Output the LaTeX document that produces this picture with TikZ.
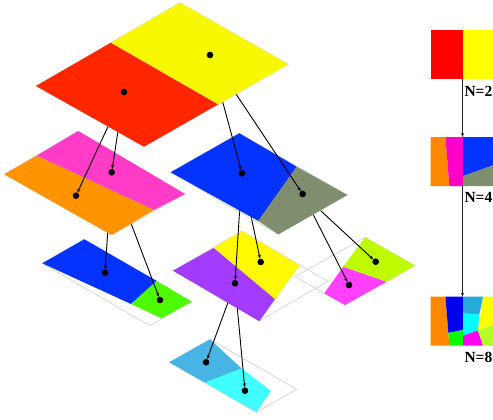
\documentclass[tikz,border=0pt]{standalone}
\usepackage{fontspec}
\setmainfont{Liberation Serif}
\usetikzlibrary{arrows.meta}
\definecolor{cRed}{RGB}{255,38,0}
\definecolor{cYel}{RGB}{248,248,0}
\definecolor{cPink}{RGB}{255,60,200}
\definecolor{cOrange}{RGB}{255,148,0}
\definecolor{cBlue}{RGB}{4,51,255}
\definecolor{cGray}{RGB}{128,142,112}
\definecolor{cGreen}{RGB}{78,250,0}
\definecolor{cPurple}{RGB}{163,60,255}
\definecolor{cYelB}{RGB}{255,250,0}
\definecolor{cYG}{RGB}{190,250,0}
\definecolor{cMag}{RGB}{255,64,255}
\definecolor{cLB}{RGB}{72,180,230}
\definecolor{cCyan}{RGB}{64,255,255}
\definecolor{pRed}{RGB}{255,0,0}
\definecolor{pYel}{RGB}{255,255,0}
\definecolor{pOrange}{RGB}{255,136,0}
\definecolor{pMag}{RGB}{255,0,200}
\definecolor{pBlue}{RGB}{0,0,240}
\definecolor{pGreen}{RGB}{0,255,0}
\definecolor{pLB}{RGB}{40,170,220}
\definecolor{pCyan}{RGB}{0,255,255}
\definecolor{pMag8}{RGB}{255,0,240}
\definecolor{pYG}{RGB}{180,255,40}
\begin{document}
\begin{tikzpicture}[x=1pt,y=-1pt,
  dot/.style={circle,fill=black,inner sep=0pt,minimum size=6.6pt},
  conn/.style={draw=black,line width=0.9pt,-{Stealth[length=4pt,width=3.2pt]}},
  parr/.style={draw=black!85,line width=0.8pt,-{Stealth[length=4pt,width=3.2pt]}},
  frame/.style={draw=black!22,line width=0.5pt},
  lbl/.style={font=\bfseries\fontsize{15.5}{16}\selectfont,inner sep=0pt,anchor=base east}]
\useasboundingbox (0,0) rectangle (493,420);

% ---------- level 4 ----------
\draw[frame] (169.3,362.3) -- (210,339.3) -- (296.7,389.3) -- (256,412.3) -- cycle;
\fill[cLB] (169.3,362.3) -- (210,339.3) -- (241.7,368.5) -- (205,382.7) -- cycle;
\fill[cCyan] (205,382.7) -- (241.7,368.5) -- (271,391) -- (256.4,412) -- cycle;
\node[dot] (d4lb) at (206,362.3) {};
\node[dot] (d4cy) at (245,390.7) {};

% ---------- level 3 ----------
% left (from pink)
\draw[frame] (42.3,263.3) -- (84.3,239.3) -- (191.7,301.7) -- (149.7,325.7) -- cycle;
\fill[cBlue] (42.3,263.3) -- (84.3,239.3) -- (156.7,281) -- (131,304) -- cycle;
\fill[cGreen] (131,304) -- (156.7,281) -- (191.7,301.7) -- (161.7,318.3) -- cycle;
\node[dot] (d3bl) at (105,272.7) {};
\node[dot] (d3gr) at (160,300) {};
% middle (from blue)
\draw[frame] (173.3,270.7) -- (241.7,231) -- (327.7,281.3) -- (259.3,321) -- cycle;
\fill[cPurple] (173.3,270.7) -- (214,248) -- (275,299) -- (259.3,321) -- cycle;
\fill[cYelB] (214,248) -- (241.7,231) -- (299.3,265.5) -- (275,299) -- cycle;
% right (from gray)
\draw[frame] (295,276.7) -- (365,237.3) -- (415,265.6) -- (345,305) -- cycle;
\fill[cMag] (324.3,293.3) -- (343.3,266.7) -- (386.7,281.7) -- (345,305) -- cycle;
\fill[cYG] (343.3,266.7) -- (365,237.3) -- (415,265.6) -- (386.7,281.7) -- cycle;
\node[dot] (d3pu) at (235,283.3) {};
\node[dot] (d3ye) at (260.7,262) {};
\node[dot] (d3ma) at (349,285) {};
\node[dot] (d3yg) at (375.7,261.7) {};
\draw[conn] (d3pu) -- (d4lb);
\draw[conn] (d3pu) -- (d4cy);
% re-draw level-3 middle on top of its outgoing lines
\fill[cPurple] (173.3,270.7) -- (214,248) -- (275,299) -- (259.3,321) -- cycle;
\fill[cYelB] (214,248) -- (241.7,231) -- (299.3,265.5) -- (275,299) -- cycle;
\node[dot] at (235,283.3) {};
\node[dot] at (260.7,262) {};

% ---------- level 2 ----------
\node[dot] (d2p) at (111.7,172.3) {};
\node[dot] (d2o) at (76,195.7) {};
\node[dot] (d2b) at (242,173.3) {};
\node[dot] (d2g) at (302.7,194) {};
\draw[conn] (d2p) -- (d3bl);
\draw[conn] (d2p) -- (d3gr);
\draw[conn] (d2b) -- (d3pu);
\draw[conn] (d2b) -- (d3ye);
\draw[conn] (d2g) -- (d3ma);
\draw[conn] (d2g) -- (d3yg);
\draw[frame] (4.3,174.3) -- (78.3,131) -- (185,194) -- (111.7,235) -- cycle;
\fill[cPink] (36.7,155.7) -- (78.3,131) -- (185,194) -- (154,210) -- cycle;
\fill[cOrange] (4.3,174.3) -- (36.7,155.7) -- (154,210) -- (111.7,235) -- cycle;
\draw[frame] (170.7,172.3) -- (239.3,133.3) -- (347.3,195) -- (278.3,234.3) -- cycle;
\fill[cBlue] (170.7,172.3) -- (239.3,133.3) -- (296.7,166.7) -- (258.3,221) -- cycle;
\fill[cGray] (258.3,221) -- (296.7,166.7) -- (347.3,195) -- (278.3,234.3) -- cycle;
\node[dot] at (111.7,172.3) {};
\node[dot] at (76,195.7) {};
\node[dot] at (242,173.3) {};
\node[dot] at (302.7,194) {};

% ---------- level 1 ----------
\node[dot] (d1r) at (124,92) {};
\node[dot] (d1y) at (210,55) {};
\draw[conn] (d1r) -- (d2p);
\draw[conn] (d1r) -- (d2o);
\draw[conn] (d1y) -- (d2b);
\draw[conn] (d1y) -- (d2g);
\draw[frame] (36,86) -- (180,2.7) -- (288.3,64.3) -- (144,146.7) -- cycle;
\fill[cRed] (36,86) -- (111,42.7) -- (218.3,104.3) -- (144,146.7) -- cycle;
\fill[cYel] (111,42.7) -- (180,2.7) -- (288.3,64.3) -- (218.3,104.3) -- cycle;
\node[dot] at (124,92) {};
\node[dot] at (210,55) {};

% ---------- previews ----------
\begin{scope}
\clip (0,0) rectangle (493,420);
\begin{scope}[shift={(430.5pt,-30pt)},x=65pt,y=-49pt]
\fill[pRed] (0,0) rectangle (0.5,1);
\fill[pYel] (0.5,0) rectangle (1,1);
\end{scope}
\begin{scope}[shift={(430.5pt,-137pt)},x=65pt,y=-49pt]
\fill[pOrange] (0,0) -- (0.23,0) -- (0.29,1) -- (0,1) -- cycle;
\fill[pMag] (0.23,0) -- (0.5,0) -- (0.5,1) -- (0.29,1) -- cycle;
\fill[cBlue] (0.5,0) -- (1,0) -- (1,0.56) -- (0.5,0.8) -- cycle;
\fill[cGray] (0.5,0.8) -- (1,0.56) -- (1,1) -- (0.5,1) -- cycle;
\end{scope}
\begin{scope}[shift={(430.5pt,-296.7pt)},x=65pt,y=-49pt]
\fill[pOrange] (0,0) -- (0.23,0) -- (0.29,1) -- (0,1) -- cycle;
\fill[pBlue] (0.23,0) -- (0.5,0) -- (0.5,0.68) -- (0.275,0.74) -- cycle;
\fill[pGreen] (0.275,0.74) -- (0.5,0.68) -- (0.5,1) -- (0.29,1) -- cycle;
\fill[pLB] (0.5,0) -- (0.81,0) -- (0.75,0.37) -- (0.5,0.34) -- cycle;
\fill[pCyan] (0.5,0.34) -- (0.75,0.37) -- (0.73,0.69) -- (0.5,0.8) -- cycle;
\fill[pYel] (0.81,0) -- (1,0) -- (1,0.56) -- (0.73,0.69) -- cycle;
\fill[pMag8] (0.5,0.8) -- (0.73,0.69) -- (0.81,1) -- (0.5,1) -- cycle;
\fill[pYG] (0.73,0.69) -- (1,0.56) -- (1,1) -- (0.81,1) -- cycle;
\end{scope}
\end{scope}
\coordinate (a1) at (462.5,79);
\coordinate (a2) at (462.5,137);
\coordinate (a3) at (462.5,186);
\coordinate (a4) at (462.5,296.7);
\draw[parr] (a1) -- (a2);
\draw[parr] (a3) -- (a4);
\node[lbl] (n2) at (492.5,96) {N=2};
\node[lbl] (n4) at (492.5,202) {N=4};
\node[lbl] (n8) at (492.5,362) {N=8};
\end{tikzpicture}
\end{document}
